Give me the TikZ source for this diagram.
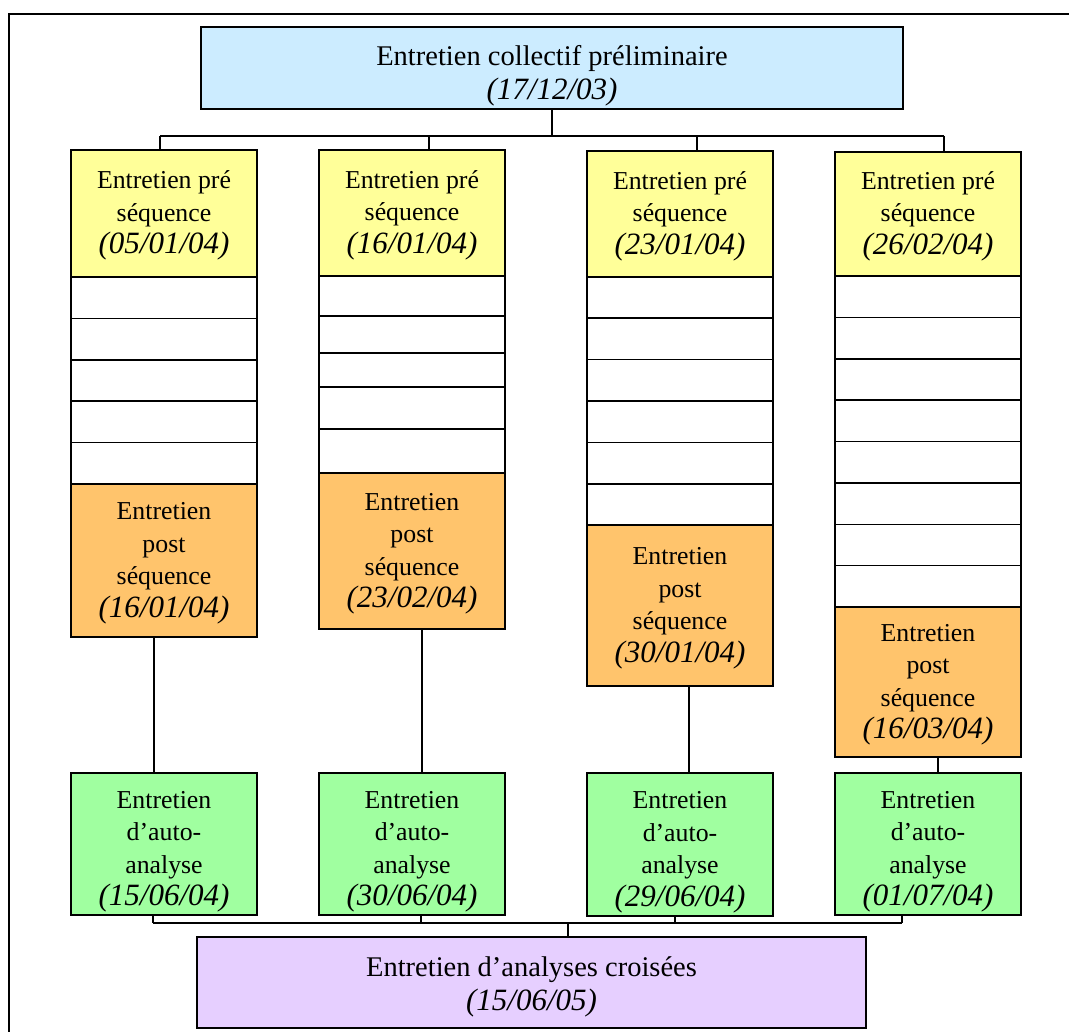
\documentclass[tikz,border=0pt]{standalone}
\usepackage{fontspec}
\setmainfont{Liberation Serif}
\definecolor{cblue}{HTML}{CCECFF}
\definecolor{cyellow}{HTML}{FFFF99}
\definecolor{corange}{HTML}{FFC46C}
\definecolor{cgreen}{HTML}{A0FFA0}
\definecolor{cpurple}{HTML}{E6CFFF}
\newcommand\dt[1]{{\fontsize{31}{32.5}\selectfont\itshape #1}}
\tikzset{
  box/.style={draw=black, line width=1.6pt, inner sep=0pt, outer sep=0pt},
  txt/.style={inner sep=0pt, align=center, font=\fontsize{25.8}{32.5}\selectfont},
  bigtxt/.style={font=\fontsize{28.5}{34}\selectfont},
  conn/.style={line width=1.5pt},
  frameline/.style={line width=2pt}
}
% [text options]{name}{x1}{y1}{x2}{y2}{fill}{text}{text shift down}
\newcommand\mkbox[9][]{%
  \node[box, fill=#7, minimum width={(#5-#3)*1pt}, minimum height={(#6-#4)*1pt}] (#2) at ({(#3+#5)/2},{(#4+#6)/2}) {};
  \node[txt, #1] (#2t) at ([yshift=-#9pt]#2.center) {#8};}
\begin{document}
\begin{tikzpicture}[x=1pt,y=-1pt]
\useasboundingbox (0,0) rectangle (1069,1032);
\draw[frameline] (1069,14) -- (9,14) -- (9,1032);

% top box
\mkbox[bigtxt]{top}{201}{27}{903}{109}{cblue}{Entretien collectif préliminaire\\\dt{(17/12/03)}}{8}

% white rows
\foreach \a/\b [count=\i] in {277/318.4,318.4/359.8,359.8/401.2,401.2/442.6,442.6/484}
  {\mkbox{ra\i}{71}{\a}{257}{\b}{white}{}{0}}
\foreach \a/\b [count=\i] in {276/316,316/353,353/387,387/429,429/473}
  {\mkbox{rb\i}{319}{\a}{505}{\b}{white}{}{0}}
\foreach \a/\b [count=\i] in {277/318.3,318.3/359.7,359.7/401,401/442.3,442.3/483.7,483.7/525}
  {\mkbox{rc\i}{587}{\a}{773}{\b}{white}{}{0}}
\foreach \a/\b [count=\i] in {276/317.4,317.4/358.8,358.8/400.1,400.1/441.5,441.5/482.9,482.9/524.3,524.3/565.6,565.6/607}
  {\mkbox{rd\i}{835}{\a}{1021}{\b}{white}{}{0}}

% pre sequence
\mkbox{y1}{71}{150}{257}{277}{cyellow}{Entretien pré\\séquence\\\dt{(05/01/04)}}{2}
\mkbox{y2}{319}{150}{505}{276}{cyellow}{Entretien pré\\séquence\\\dt{(16/01/04)}}{2}
\mkbox{y3}{587}{151}{773}{277}{cyellow}{Entretien pré\\séquence\\\dt{(23/01/04)}}{2}
\mkbox{y4}{835}{152}{1021}{276}{cyellow}{Entretien pré\\séquence\\\dt{(26/02/04)}}{2}

% post sequence
\mkbox{o1}{71}{484}{257}{637}{corange}{Entretien\\post\\séquence\\\dt{(16/01/04)}}{3}
\mkbox{o2}{319}{473}{505}{629}{corange}{Entretien\\post\\séquence\\\dt{(23/02/04)}}{3}
\mkbox{o3}{587}{525}{773}{686}{corange}{Entretien\\post\\séquence\\\dt{(30/01/04)}}{3}
\mkbox{o4}{835}{607}{1021}{757}{corange}{Entretien\\post\\séquence\\\dt{(16/03/04)}}{3}

% auto-analyse
\mkbox{g1}{71}{773}{257}{915}{cgreen}{Entretien\\d’auto-\\analyse\\\dt{(15/06/04)}}{8}
\mkbox{g2}{319}{773}{505}{915}{cgreen}{Entretien\\d’auto-\\analyse\\\dt{(30/06/04)}}{8}
\mkbox{g3}{587}{773}{773}{916}{cgreen}{Entretien\\d’auto-\\analyse\\\dt{(29/06/04)}}{8}
\mkbox{g4}{835}{773}{1021}{915}{cgreen}{Entretien\\d’auto-\\analyse\\\dt{(01/07/04)}}{8}

% bottom box
\mkbox[bigtxt]{bot}{197}{937}{866}{1028}{cpurple}{Entretien d’analyses croisées\\\dt{(15/06/05)}}{4}

% top connectors
\coordinate (t1) at (160,136);
\coordinate (t2) at (429,136);
\coordinate (t3) at (697,136);
\coordinate (t4) at (944,136);
\draw[conn] (top.south) -- (top.south |- t1);
\draw[conn] (t1) -- (t4);
\draw[conn] (t1) -- (t1 |- y1.north);
\draw[conn] (t2) -- (t2 |- y2.north);
\draw[conn] (t3) -- (t3 |- y3.north);
\draw[conn] (t4) -- (t4 |- y4.north);

% middle connectors
\coordinate (m1) at (154,0);
\coordinate (m2) at (422,0);
\coordinate (m3) at (689,0);
\coordinate (m4) at (938,0);
\draw[conn] (o1.south -| m1) -- (g1.north -| m1);
\draw[conn] (o2.south -| m2) -- (g2.north -| m2);
\draw[conn] (o3.south -| m3) -- (g3.north -| m3);
\draw[conn] (o4.south -| m4) -- (g4.north -| m4);

% bottom connectors
\coordinate (b1) at (153,923);
\coordinate (b2) at (421,923);
\coordinate (b3) at (675,923);
\coordinate (b4) at (902,923);
\coordinate (bm) at (568,923);
\draw[conn] (g1.south -| b1) -- (b1);
\draw[conn] (g2.south -| b2) -- (b2);
\draw[conn] (g3.south -| b3) -- (b3);
\draw[conn] (g4.south -| b4) -- (b4);
\draw[conn] (b1) -- (b4);
\draw[conn] (bm) -- (bm |- bot.north);
\end{tikzpicture}
\end{document}
